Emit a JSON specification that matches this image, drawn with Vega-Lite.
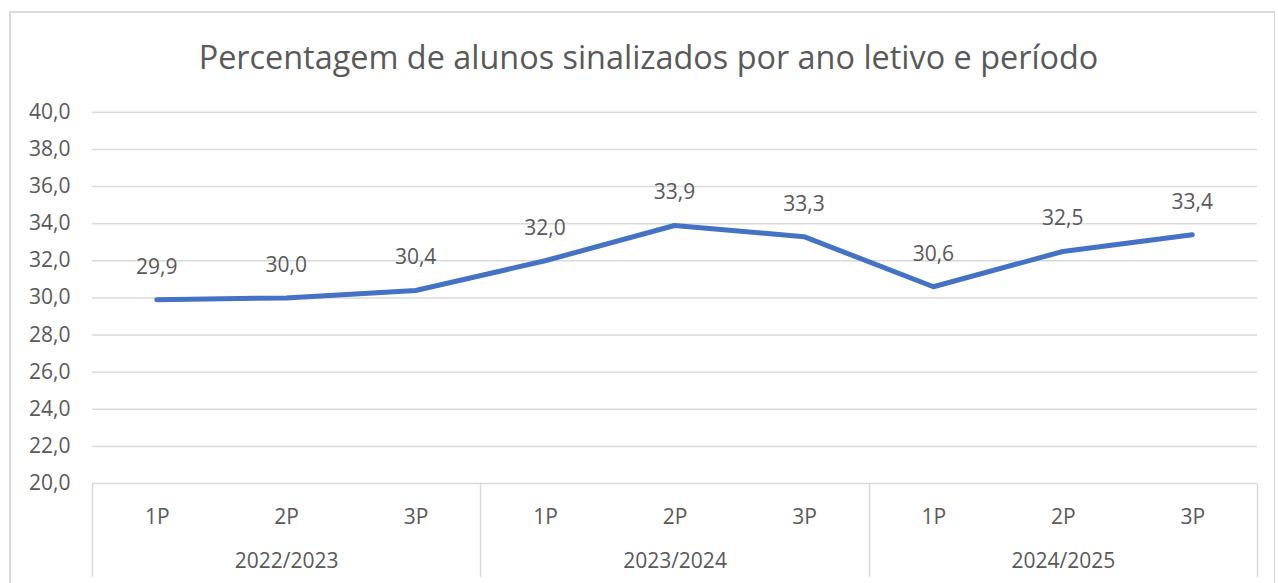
{
  "$schema": "https://vega.github.io/schema/vega-lite/v6.json",
  "autosize": "none",
  "width": 1265,
  "height": 590,
  "padding": {"left": 10, "top": 12, "right": 0, "bottom": 0},
  "background": "white",
  "config": {
    "locale": {"number": {"decimal": ",", "thousands": ".", "grouping": [3], "currency": ["", " €"]}},
    "view": {"stroke": "#d9d9d9", "strokeWidth": 2},
    "font": "Open Sans"
  },
  "title": {
    "text": "Percentagem de alunos sinalizados por ano letivo e período",
    "font": "Open Sans",
    "fontSize": 32.4,
    "fontWeight": "normal",
    "color": "#595959",
    "anchor": "middle",
    "baseline": "alphabetic",
    "offset": -89,
    "dx": 6
  },
  "datasets": {
    "valores": [
      {"ano": "2022/2023", "periodo": "1P", "valor": 29.9},
      {"ano": "2022/2023", "periodo": "2P", "valor": 30.0},
      {"ano": "2022/2023", "periodo": "3P", "valor": 30.4},
      {"ano": "2023/2024", "periodo": "1P", "valor": 32.0},
      {"ano": "2023/2024", "periodo": "2P", "valor": 33.9},
      {"ano": "2023/2024", "periodo": "3P", "valor": 33.3},
      {"ano": "2024/2025", "periodo": "1P", "valor": 30.6},
      {"ano": "2024/2025", "periodo": "2P", "valor": 32.5},
      {"ano": "2024/2025", "periodo": "3P", "valor": 33.4}
    ],
    "grelha": [
      {"v": 20}, {"v": 22}, {"v": 24}, {"v": 26}, {"v": 28}, {"v": 30},
      {"v": 32}, {"v": 34}, {"v": 36}, {"v": 38}, {"v": 40}
    ]
  },
  "resolve": {"axis": {"x": "independent"}},
  "layer": [
    {
      "data": {"name": "grelha"},
      "mark": {"type": "rule", "color": "#d9d9d9", "strokeWidth": 1.5},
      "encoding": {
        "y": {
          "field": "v", "type": "quantitative",
          "scale": {"domain": [13.62, 45.40], "nice": false, "zero": false},
          "axis": {
            "orient": "left", "offset": -60, "values": [20, 22, 24, 26, 28, 30, 32, 34, 36, 38, 40],
            "format": ".1f", "domain": false, "ticks": false, "grid": false,
            "labelPadding": 0, "labelFontSize": 21, "labelColor": "#595959", "labelFont": "Open Sans", "title": null
          }
        },
        "x": {
          "datum": 0.5, "type": "quantitative",
          "scale": {"domain": [-0.1335, 9.639], "nice": false, "zero": false},
          "axis": {
            "orient": "bottom", "offset": -118.5, "values": [0.5, 3.5, 6.5, 9.5],
            "labels": false, "domain": false, "grid": false, "ticks": true,
            "tickSize": 93, "tickColor": "#d9d9d9", "tickWidth": 1.5, "title": null
          }
        },
        "x2": {"datum": 9.5}
      }
    },
    {
      "data": {"name": "valores"},
      "transform": [{"window": [{"op": "row_number", "as": "idx"}]}],
      "mark": {"type": "line", "color": "#4472C4", "strokeWidth": 5, "strokeCap": "round", "strokeJoin": "round"},
      "encoding": {
        "x": {
          "field": "idx", "type": "quantitative",
          "axis": {
            "orient": "bottom", "offset": -118.5, "values": [1, 2, 3, 4, 5, 6, 7, 8, 9],
            "labelExpr": "((datum.value - 1) % 3 + 1) + 'P'",
            "domain": false, "ticks": false, "grid": false,
            "labelPadding": 23, "labelFontSize": 21, "labelColor": "#595959", "labelFont": "Open Sans", "title": null
          }
        },
        "y": {"field": "valor", "type": "quantitative"}
      }
    },
    {
      "data": {"name": "valores"},
      "transform": [{"window": [{"op": "row_number", "as": "idx"}]}],
      "mark": {"type": "text", "fontSize": 21, "color": "#595959", "font": "Open Sans", "baseline": "middle", "dy": -32},
      "encoding": {
        "x": {
          "field": "idx", "type": "quantitative",
          "axis": {
            "orient": "bottom", "offset": -118.5, "values": [2, 5, 8],
            "labelExpr": "['2022/2023', '2023/2024', '2024/2025'][(datum.value - 2) / 3]",
            "domain": false, "ticks": false, "grid": false,
            "labelPadding": 67, "labelFontSize": 21, "labelColor": "#595959", "labelFont": "Open Sans", "title": null
          }
        },
        "y": {"field": "valor", "type": "quantitative"},
        "text": {"field": "valor", "type": "quantitative", "format": ".1f"}
      }
    }
  ]
}
